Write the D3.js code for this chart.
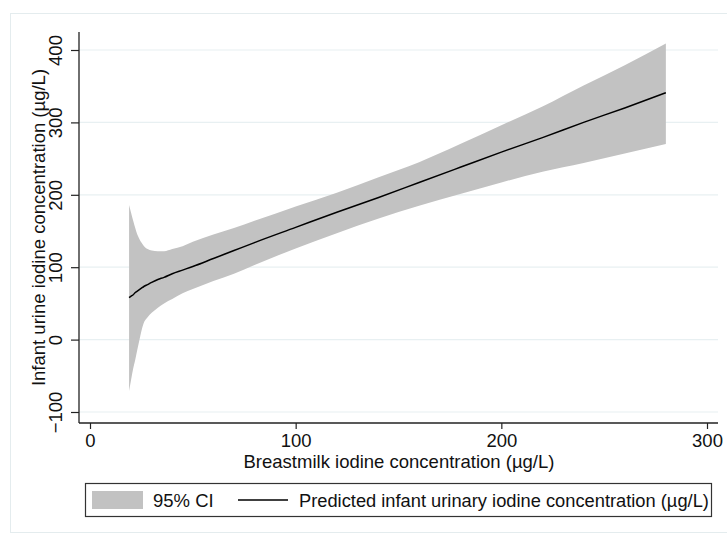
<!DOCTYPE html>
<html lang="en">

<head>
    <script src='https://d3js.org/d3.v7.min.js'></script>
    <style>
        body { margin: 0; background: #fff; }
        text { font-family: 'Liberation Sans', Arial, sans-serif; fill: #111; }
    </style>
</head>

<body>

    <script>
        var width = 727, height = 535;

        // breastmilk iodine (x) and fitted infant urinary iodine with 95% CI
        var milkIodine = [19, 20, 21, 22, 23, 24, 25, 26, 28, 30, 33, 36, 40, 45, 50, 60, 70, 80, 100, 120, 140, 160, 180, 200, 220, 240, 260, 280];
        var predicted  = [58, 60, 62, 65, 67, 69, 71, 73, 76, 79, 83, 86, 91, 96, 101, 112, 123, 134, 155, 176, 196, 217, 238, 259, 279, 300, 320, 341];
        var ciUpper    = [186, 175, 164, 154, 145, 139, 134, 130, 125, 123, 122, 122, 125, 129, 135, 145, 154, 164, 184, 203, 224, 245, 270, 296, 322, 351, 379, 409];
        var ciLower    = [-71, -55, -40, -28, -14, -1, 12, 22, 31, 37, 44, 50, 56, 64, 70, 81, 91, 103, 126, 147, 167, 185, 201, 217, 232, 244, 257, 270];

        var xTicks = [0, 100, 200, 300];
        var yTicks = [-100, 0, 100, 200, 300, 400];

        var data = milkIodine.map(function(d, i) {
            return { x: d, y: predicted[i], lo: ciLower[i], hi: ciUpper[i] };
        });

        var svg = d3.select('body').append('svg').attr('width', width).attr('height', height);

        // outer graph region frame
        svg.append('rect')
            .attr('x', 10.5).attr('y', 13.5)
            .attr('width', 730).attr('height', 519)
            .attr('fill', 'none')
            .attr('stroke', '#e4ecee');

        var plotLeft = 79, plotRight = 718, plotTop = 32, plotBottom = 423;

        var x = d3.scaleLinear().domain([0, 300]).range([90, 707]);
        var y = d3.scaleLinear().domain([-100, 400]).range([412, 50]);

        // gridlines
        svg.append('g')
            .selectAll('line')
            .data(yTicks)
            .join('line')
            .attr('x1', plotLeft).attr('x2', plotRight)
            .attr('y1', function(d) { return y(d) })
            .attr('y2', function(d) { return y(d) })
            .attr('stroke', '#e8f0f2')
            .attr('stroke-width', 1.2);

        // confidence band
        var area = d3.area()
            .curve(d3.curveMonotoneX)
            .x(function(d) { return x(d.x) })
            .y0(function(d) { return y(d.lo) })
            .y1(function(d) { return y(d.hi) });

        svg.append('path')
            .datum(data)
            .attr('d', area)
            .attr('fill', '#c2c2c2');

        var line = d3.line()
            .curve(d3.curveMonotoneX)
            .x(function(d) { return x(d.x) })
            .y(function(d) { return y(d.y) });

        svg.append('path')
            .datum(data)
            .attr('d', line)
            .attr('fill', 'none')
            .attr('stroke', '#000')
            .attr('stroke-width', 1.5);

        // axes
        var xAxis = svg.append('g')
            .attr('transform', 'translate(0,' + plotBottom + ')')
            .call(d3.axisBottom(x).tickValues(xTicks).tickSize(6).tickPadding(5).tickSizeOuter(0));
        xAxis.select('.domain').remove();
        xAxis.selectAll('.tick line').attr('stroke', '#222').attr('stroke-width', 1.2);
        xAxis.selectAll('.tick text').attr('font-size', 18.5).attr('font-family', null).attr('fill', '#111');

        var yAxis = svg.append('g')
            .attr('transform', 'translate(' + plotLeft + ',0)')
            .call(d3.axisLeft(y).tickValues(yTicks).tickSize(8).tickFormat(d3.format('d')));
        yAxis.select('.domain').remove();
        yAxis.selectAll('.tick line').attr('stroke', '#222').attr('stroke-width', 1.2);
        yAxis.selectAll('.tick text')
            .attr('font-size', 18.5).attr('font-family', null).attr('fill', '#111')
            .attr('x', null).attr('dy', null)
            .attr('text-anchor', 'middle')
            .attr('transform', 'translate(-17,0) rotate(-90)');

        svg.append('line')
            .attr('x1', plotLeft).attr('x2', plotRight)
            .attr('y1', plotBottom).attr('y2', plotBottom)
            .attr('stroke', '#222').attr('stroke-width', 1.3);
        svg.append('line')
            .attr('x1', plotLeft).attr('x2', plotLeft)
            .attr('y1', plotTop).attr('y2', plotBottom)
            .attr('stroke', '#222').attr('stroke-width', 1.3);

        // axis titles
        svg.append('text')
            .attr('x', 399).attr('y', 468)
            .attr('text-anchor', 'middle')
            .attr('font-size', 18.5)
            .text('Breastmilk iodine concentration (µg/L)');

        svg.append('text')
            .attr('transform', 'translate(45,' + (plotTop + plotBottom) / 2 + ') rotate(-90)')
            .attr('text-anchor', 'middle')
            .attr('font-size', 18.5)
            .text('Infant urine iodine concentration (µg/L)');

        // legend
        var legend = svg.append('g');
        legend.append('rect')
            .attr('x', 85.5).attr('y', 483.5)
            .attr('width', 626).attr('height', 33)
            .attr('fill', '#fff')
            .attr('stroke', '#333').attr('stroke-width', 1.2);
        legend.append('rect')
            .attr('x', 92).attr('y', 491)
            .attr('width', 51).attr('height', 18)
            .attr('fill', '#c2c2c2');
        legend.append('text')
            .attr('x', 153).attr('y', 507)
            .attr('font-size', 18.5)
            .text('95% CI');
        legend.append('line')
            .attr('x1', 238).attr('x2', 288)
            .attr('y1', 500).attr('y2', 500)
            .attr('stroke', '#000').attr('stroke-width', 1.5);
        legend.append('text')
            .attr('x', 299).attr('y', 507)
            .attr('font-size', 18.3)
            .text('Predicted infant urinary iodine concentration (µg/L)');

        console.log('ready..');
    </script>

</body>

</html>
